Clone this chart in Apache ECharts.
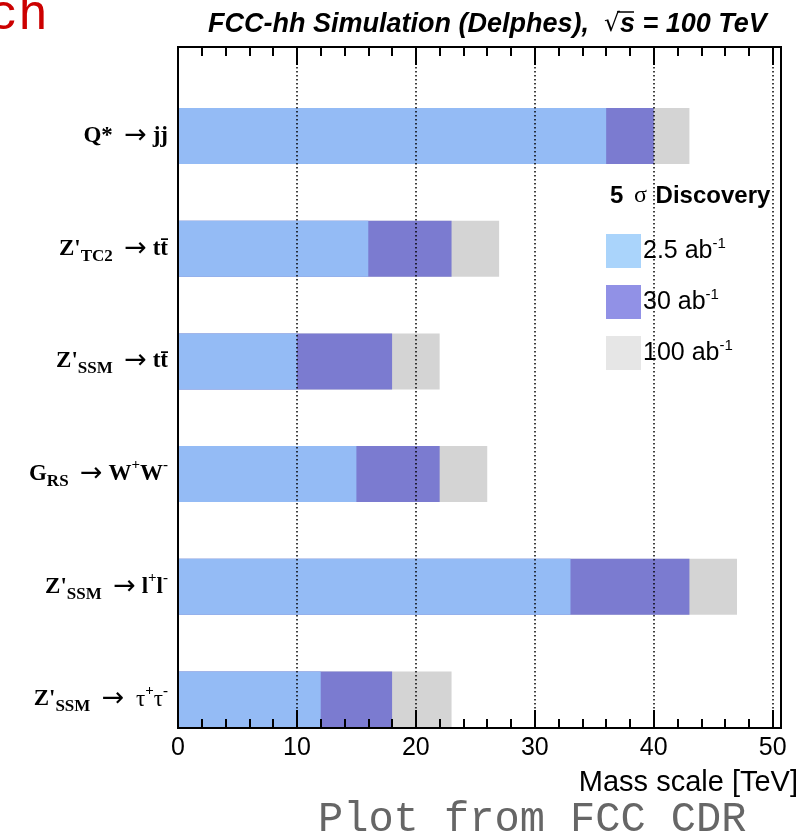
<!DOCTYPE html>
<html>
<head>
<meta charset="utf-8">
<script src="https://cdn.jsdelivr.net/npm/echarts@6/dist/echarts.min.js"></script>
<style>
html,body{margin:0;padding:0;background:#fff;}
#chart{width:807px;height:839px;}
</style>
</head>
<body>
<div id="chart"></div>
<script>
// ---- data ----
var categories = ['Qjj', 'ZTC2tt', 'ZSSMtt', 'GRSWW', 'ZSSMll', 'ZSSMtautau'];
var categoryLabels = [
  '{m|Q*  }{a|\u2192}{m| jj}',
  '{m|Z\'}{sub|TC2}{m|  }{a|\u2192}{m| tt\u0304}',
  '{m|Z\'}{sub|SSM}{m|  }{a|\u2192}{m| tt\u0304}',
  '{m|G}{sub|RS}{m|  }{a|\u2192}{m| W}{sup|+}{m|W}{sup|-}',
  '{m|Z\'}{sub|SSM}{m|  }{a|\u2192}{m| l}{sup|+}{m|l}{sup|-}',
  '{m|Z\'}{sub|SSM}{m|  }{a|\u2192}{t|  \u03c4}{sup|+}{t|\u03c4}{sup|-}'
];
var lumi25 = [36, 16, 10, 15, 33, 12];
var lumi30 = [40, 23, 18, 22, 43, 18];
var lumi100 = [43, 27, 22, 26, 47, 23];
var seriesNames = ['2.5 ab', '30 ab', '100 ab'];
var xTickLabels = [0, 10, 20, 30, 40, 50];

var barColors = ['#94bbf5', '#7b7bd0', '#d4d4d4'];
var legendColors = ['#aad4fb', '#9191e6', '#e6e6e6'];

var chart = echarts.init(document.getElementById('chart'), null, {renderer: 'canvas'});

var XMAX = 50.7;
var frameGrid = {left: 178, right: 26, top: 47, bottom: 111, show: true, borderColor: '#000', borderWidth: 2, backgroundColor: 'transparent', z: 10};
var barGrid = {left: 178, right: 26, top: 79.7, bottom: 83.2, show: false};

function tickAxis(pos, interval, len, showLabel, split) {
  return {
    type: 'value', gridIndex: 0, position: pos, min: 0, max: XMAX, interval: interval,
    axisLine: {show: false},
    axisTick: {show: true, inside: true, length: len, lineStyle: {color: '#000', width: 2}},
    axisLabel: {show: showLabel, fontFamily: 'Liberation Sans, Arial', fontSize: 25, color: '#000', margin: 8,
      formatter: function (v) { return xTickLabels.indexOf(v) >= 0 ? String(v) : ''; }},
    splitLine: {show: split, lineStyle: {color: '#000', type: [1.5, 2.5], width: 1.5}},
    z: 5
  };
}

var option = {
  animation: false,
  backgroundColor: '#fff',
  grid: [frameGrid, barGrid],
  title: {
    text: '{a|FCC-hh Simulation (Delphes),  }{r|\u221a}{a|s = 100 TeV}',
    left: 203, top: 6,
    textStyle: {
      rich: {
        a: {fontFamily: 'Liberation Sans, Arial', fontWeight: 'bold', fontStyle: 'italic', fontSize: 27, color: '#000'},
        r: {fontFamily: 'DejaVu Sans', fontWeight: 'normal', fontSize: 25, color: '#000'}
      }
    }
  },
  legend: {
    orient: 'vertical', left: 601, top: 229,
    itemWidth: 35, itemHeight: 34, itemGap: 17, icon: 'rect',
    selectedMode: false,
    data: [
      {name: seriesNames[0], itemStyle: {color: legendColors[0]}},
      {name: seriesNames[1], itemStyle: {color: legendColors[1]}},
      {name: seriesNames[2], itemStyle: {color: legendColors[2]}}
    ],
    formatter: function (n) { return '{t|' + n + '}{s|-1}'; },
    textStyle: {
      padding: [0, 0, 0, -3],
      rich: {
        t: {fontFamily: 'Liberation Sans, Arial', fontSize: 25, color: '#000', lineHeight: 30},
        s: {fontFamily: 'Liberation Sans, Arial', fontSize: 15, color: '#000', lineHeight: 16, verticalAlign: 'top'}
      }
    }
  },
  xAxis: [
    tickAxis('bottom', 2, 9, false, false),
    tickAxis('bottom', 10, 18, true, true),
    tickAxis('top', 2, 9, false, false),
    tickAxis('top', 10, 18, false, false),
    {type: 'value', gridIndex: 1, min: 0, max: XMAX, show: false}
  ],
  yAxis: [
    {type: 'value', gridIndex: 0, show: false},
    {type: 'category', gridIndex: 1, data: categories, inverse: true,
      axisLine: {show: false}, axisTick: {show: false},
      axisLabel: {
        margin: 10,
        formatter: function (v, i) { return categoryLabels[i]; },
        rich: {
          m: {fontFamily: 'Liberation Serif, Times New Roman', fontWeight: 'bold', fontSize: 23, color: '#000', lineHeight: 32},
          a: {fontFamily: 'DejaVu Sans', fontWeight: 'normal', fontSize: 27, color: '#000', lineHeight: 32},
          t: {fontFamily: 'Liberation Serif, Times New Roman', fontWeight: 'normal', fontSize: 23, color: '#000', lineHeight: 32},
          sub: {fontFamily: 'Liberation Serif, Times New Roman', fontWeight: 'bold', fontSize: 17, color: '#000', lineHeight: 15, verticalAlign: 'bottom'},
          sup: {fontFamily: 'Liberation Serif, Times New Roman', fontWeight: 'bold', fontSize: 15, color: '#000', lineHeight: 15, verticalAlign: 'top'}
        }
      }
    }
  ],
  series: [
    {name: seriesNames[2], type: 'bar', xAxisIndex: 4, yAxisIndex: 1, data: lumi100, barWidth: 56, barGap: '-100%', itemStyle: {color: barColors[2]}, z: 2},
    {name: seriesNames[1], type: 'bar', xAxisIndex: 4, yAxisIndex: 1, data: lumi30, barWidth: 56, barGap: '-100%', itemStyle: {color: barColors[1]}, z: 3},
    {name: seriesNames[0], type: 'bar', xAxisIndex: 4, yAxisIndex: 1, data: lumi25, barWidth: 56, barGap: '-100%', itemStyle: {color: barColors[0]}, z: 4}
  ],
  graphic: [
    {type: 'text', left: 610, top: 184, style: {
      text: '{b|5 }{g|\u03c3}{b| Discovery}',
      rich: {
        b: {fontFamily: 'Liberation Sans, Arial', fontWeight: 'bold', fontSize: 24, fill: '#000'},
        g: {fontFamily: 'Liberation Serif, Times New Roman', fontSize: 24, fill: '#000', padding: [0, 2, 0, 4]}
      }
    }},
    {type: 'line', shape: {x1: 617, y1: 12, x2: 634, y2: 12}, style: {stroke: '#000', lineWidth: 1.5}},
    {type: 'text', right: 9, top: 768, style: {text: 'Mass scale [TeV]', fontFamily: 'Liberation Sans, Arial', fontSize: 29, fill: '#000'}},
    {type: 'text', left: 318, top: 799, style: {text: 'Plot from FCC CDR', fontFamily: 'Liberation Mono, Courier New', fontSize: 42, fill: '#666'}},
    {type: 'text', left: -12, top: -9, style: {text: 'ch', fontFamily: 'Liberation Mono, Courier New', fontSize: 50, fill: '#cc0000'}}
  ]
};
chart.setOption(option);
</script>
</body>
</html>
